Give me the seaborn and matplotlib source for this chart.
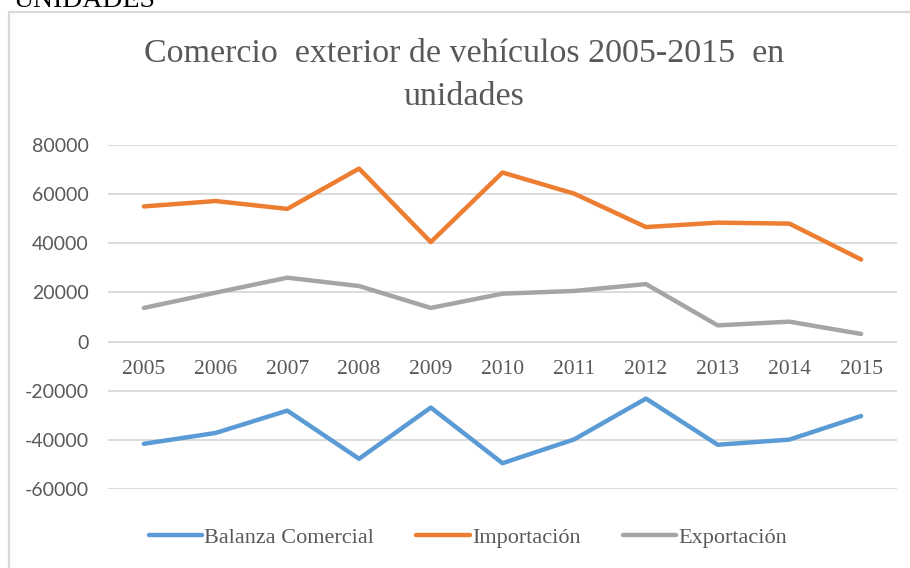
import matplotlib
matplotlib.use("Agg")
import matplotlib.pyplot as plt
import matplotlib.patches as mpatches
import seaborn as sns
import pandas as pd

years = [2005, 2006, 2007, 2008, 2009, 2010, 2011, 2012, 2013, 2014, 2015]
balanza = [-41600, -37200, -28100, -47700, -26850, -49500, -39800, -23200, -42000, -39900, -30300]
importacion = [55000, 57200, 54000, 70400, 40500, 68800, 60200, 46600, 48400, 48000, 33400]
exportacion = [13700, 19900, 26000, 22600, 13700, 19500, 20600, 23400, 6600, 8100, 3100]
series_names = ["Balanza Comercial", "Importación", "Exportación"]
colors = ["#5B9BD5", "#ED7D31", "#A5A5A5"]
y_ticks = [-60000, -40000, -20000, 0, 20000, 40000, 60000, 80000]

data = pd.DataFrame({
    "Año": years * 3,
    "Valor": balanza + importacion + exportacion,
    "Serie": [n for n in series_names for _ in years],
})

sns.set_theme(style="white")
plt.rcParams["font.family"] = ["Liberation Serif", "DejaVu Serif"]

W, H = 910, 568
fig = plt.figure(figsize=(W / 100, H / 100), dpi=100)
ax = fig.add_axes([108 / W, 1 - 489 / H, 789 / W, (489 - 145) / H])

sns.lineplot(data=data, x="Año", y="Valor", hue="Serie", hue_order=series_names,
             palette=colors, linewidth=3.2, ax=ax, legend=False, clip_on=False)

# category labels sit just under the zero line, like the Excel original
for name, sp in ax.spines.items():
    sp.set_visible(False)
ax.spines["bottom"].set_position(("data", 0))

ax.set_xlim(2004.5, 2015.5)
ax.set_ylim(-60000, 80000)
ax.set_yticks(y_ticks)
ax.set_yticklabels([str(v) for v in y_ticks], family=["Lato", "DejaVu Sans"],
                   fontsize=14, color="#595959")
ax.set_xticks(years)
ax.set_xticklabels([str(y) for y in years], fontsize=15.5, color="#595959")
ax.tick_params(axis="both", length=0)
ax.tick_params(axis="y", pad=14)
ax.tick_params(axis="x", pad=13)
ax.yaxis.grid(True, color="#D9D9D9", linewidth=1.3)
ax.xaxis.grid(False)
ax.set_xlabel("")
ax.set_ylabel("")

handles = [plt.Line2D([], [], color=c, linewidth=3.2) for c in colors]
leg = fig.legend(handles, series_names, loc="center", bbox_to_anchor=(468 / W, 1 - 538 / H),
                 ncol=3, frameon=False, fontsize=16, handlelength=2.4,
                 handletextpad=0.1, columnspacing=1.9)
for t in leg.get_texts():
    t.set_color("#595959")

fig.text(464 / W, 1 - 54 / H, "Comercio  exterior de vehículos 2005-2015  en",
         ha="center", va="center", fontsize=24.5, color="#595959")
fig.text(464 / W, 1 - 97 / H, "unidades", ha="center", va="center",
         fontsize=24.5, color="#595959")

fig.text(13 / W, 1 - 7 / H, "UNIDADES", ha="left", va="baseline",
         fontsize=20, color="black")

frame = mpatches.Rectangle((8.5 / W, -0.1), 1.2, 1.1 - 12 / H, transform=fig.transFigure,
                           facecolor="none", edgecolor="#D9D9D9", linewidth=1.6)
fig.patches.append(frame)

fig.savefig("out.png", dpi=100)
